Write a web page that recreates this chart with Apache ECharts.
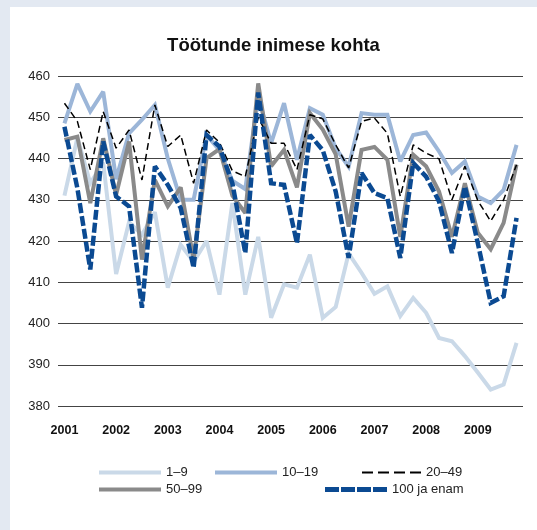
<!DOCTYPE html>
<html>
<head>
<meta charset="utf-8">
<script src="https://cdn.jsdelivr.net/npm/echarts@6/dist/echarts.min.js"></script>
<style>
  body { margin: 0; background: #e3e9f2; width: 537px; height: 530px; overflow: hidden; }
  #main { position: absolute; left: 10px; top: 7px; width: 527px; height: 523px; background: #ffffff; }
</style>
</head>
<body>
<div id="main"></div>
<script>
// quarterly data 2001 I - 2009 IV
var years = ["2001", "2002", "2003", "2004", "2005", "2006", "2007", "2008", "2009"];
var quarters = [];
years.forEach(function (y) {
  ["I", "II", "III", "IV"].forEach(function (q) { quarters.push(y + " " + q); });
});

var s1_9 = [431, 445, 434, 439, 412, 424.6, 421.5, 427, 408.7, 419.1, 415, 420,
  407, 429.2, 407, 421, 401.4, 409.5, 408.7, 416.7, 401.4, 404, 417, 412.3,
  407.2, 409, 401.8, 406.2, 402.6, 396.5, 395.7, 392.1, 388.1, 384, 385.2, 395.3];
var s10_19 = [448.5, 458.1, 451.4, 456.2, 435, 446.1, 449.4, 453, 440, 430, 430, 445.7,
  442, 434.6, 432.6, 455, 443.7, 453.4, 439.7, 452.2, 450.6, 442.5, 438, 451,
  450.6, 450.6, 439.3, 445.7, 446.3, 441.7, 436.5, 439.3, 430.8, 429.2, 432.4, 443.3];
var s20_49 = [453.4, 449, 437.3, 451.4, 442.5, 446.9, 434.8, 453, 442.9, 445.7, 434, 446.9,
  443.9, 437, 435.6, 450, 443.7, 443.7, 437.3, 450.6, 449.6, 443.3, 437.7, 449,
  449.8, 446.1, 430.8, 443.3, 441.3, 439.9, 430, 438.1, 429.8, 424.8, 430, 438.5];
var s50_99 = [444.5, 445.3, 429.2, 444.9, 431.2, 444.1, 415.5, 434.8, 428.4, 433, 415.5, 440.1,
  442.3, 431, 426.8, 458.2, 438.1, 442.1, 433, 451, 447, 441, 423.5, 442.1,
  442.8, 439.7, 421, 440.9, 438.1, 432, 421, 434, 422, 418, 424.4, 438.5];
var s100 = [447.7, 432.8, 413.1, 444.1, 430.8, 428.4, 403.8, 438.1, 433.6, 428, 413.5, 445.7,
  442.9, 434, 417.1, 456, 434, 433.6, 419.5, 445.7, 442, 432, 415.9, 436.5,
  431.6, 430.4, 415.9, 438.9, 435.6, 429.6, 417.1, 433.2, 419.5, 405, 406.6, 425.6];

var names = ["1–9", "10–19", "20–49", "50–99", "100 ja enam"];
var colors = ["#cad9e8", "#9cb6d8", "#000000", "#8a8a8a", "#0b4a92"];

var iconSolid = "path://M0,0h62v4h-62z";
var iconBlackDash = "path://M0,0h11v2h-11zM16,0h11v2h-11zM32,0h11v2h-11zM48,0h11v2h-11z";
var iconBlueDash = "path://M0,0h14v5h-14zM16,0h14v5h-14zM32,0h14v5h-14zM48,0h14v5h-14z";

function legendFor(i, left, top, icon, w, h) {
  return {
    left: left,
    top: top,
    padding: 0,
    itemWidth: w,
    itemHeight: h,
    selectedMode: false,
    textStyle: { fontFamily: "Liberation Sans", fontSize: 13, color: "#222" },
    data: [{ name: names[i], icon: icon, itemStyle: { color: colors[i], borderWidth: 0 } }]
  };
}

var myChart = echarts.init(document.getElementById("main"));

myChart.setOption({
  animation: false,
  title: {
    text: "Töötunde inimese kohta",
    left: "center",
    top: 24,
    textStyle: { fontFamily: "Liberation Sans", fontSize: 18.5, fontWeight: "bold", color: "#111" }
  },
  legend: [
    legendFor(0, 89, 459, iconSolid, 62, 4),
    legendFor(1, 205, 459, iconSolid, 62, 4),
    legendFor(2, 352, 459, iconBlackDash, 59, 2),
    legendFor(3, 89, 476, iconSolid, 62, 4),
    legendFor(4, 315, 476, iconBlueDash, 62, 5)
  ],
  grid: { left: 48, right: 14, top: 69, height: 330 },
  xAxis: {
    type: "category",
    data: quarters,
    boundaryGap: true,
    axisLine: { show: false },
    axisTick: { show: false },
    axisLabel: {
      interval: 3,
      margin: 18,
      fontFamily: "Liberation Sans",
      fontSize: 12.5,
      fontWeight: "bold",
      color: "#111",
      formatter: function (v) { return v.slice(0, 4); }
    }
  },
  yAxis: {
    type: "value",
    min: 380,
    max: 460,
    interval: 10,
    axisLine: { show: false },
    axisTick: { show: false },
    axisLabel: { margin: 8, fontFamily: "Liberation Sans", fontSize: 13, color: "#222" },
    splitLine: { lineStyle: { color: "#444", width: 1 } }
  },
  series: [
    {
      name: names[0], type: "line", data: s1_9, symbol: "none", color: colors[0],
      lineStyle: { width: 4, color: colors[0], join: "miter", miterLimit: 2.5 }
    },
    {
      name: names[1], type: "line", data: s10_19, symbol: "none", color: colors[1],
      lineStyle: { width: 4, color: colors[1], join: "miter", miterLimit: 2.5 }
    },
    {
      name: names[3], type: "line", data: s50_99, symbol: "none", color: colors[3],
      lineStyle: { width: 4, color: colors[3], join: "miter", miterLimit: 2.5 }
    },
    {
      name: names[2], type: "line", data: s20_49, symbol: "none", color: colors[2],
      lineStyle: { width: 1.5, color: colors[2], type: [7, 4] }
    },
    {
      name: names[4], type: "line", data: s100, symbol: "none", color: colors[4],
      lineStyle: { width: 4.5, color: colors[4], type: [10, 3], join: "miter", miterLimit: 2.5 }
    }
  ]
});
</script>
</body>
</html>
